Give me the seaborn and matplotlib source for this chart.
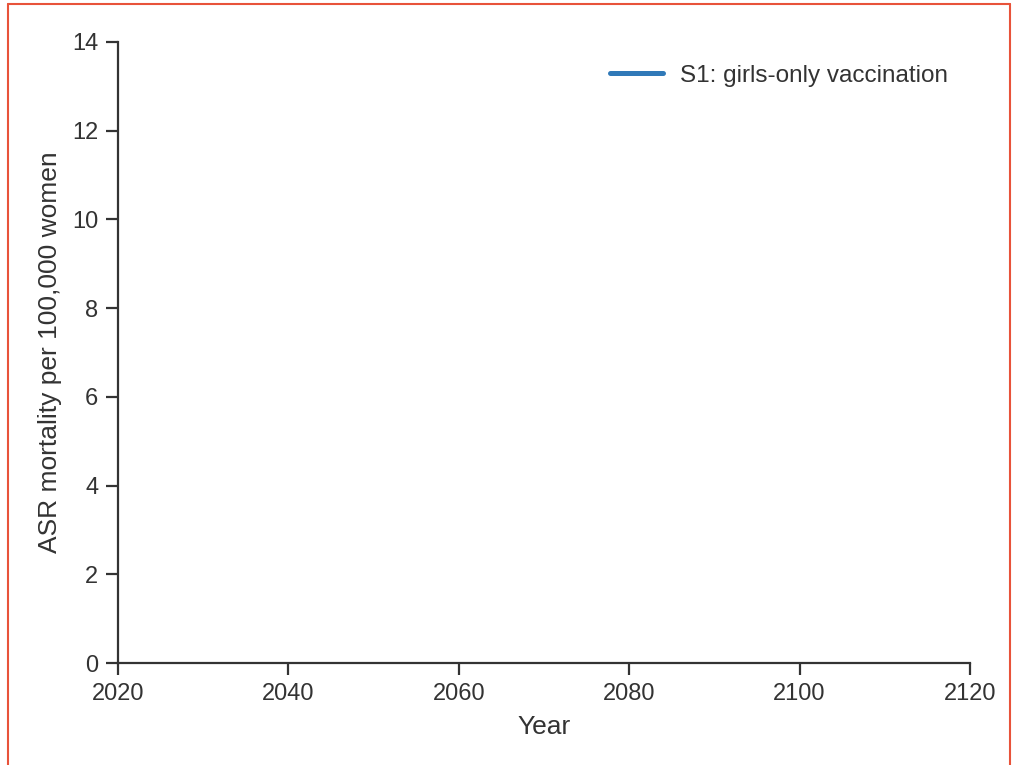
import matplotlib
matplotlib.use("Agg")
import matplotlib.pyplot as plt
import seaborn as sns
import pandas as pd
from matplotlib.lines import Line2D

# Data (the reference shows no plotted values for the series)
years = []
asr_mortality = []
series_label = "S1: girls-only vaccination"
x_ticks = [2020, 2040, 2060, 2080, 2100, 2120]
y_ticks = [0, 2, 4, 6, 8, 10, 12, 14]

sns.set_theme(style="ticks")
plt.rcParams['font.family'] = ['Arial', 'Liberation Sans', 'DejaVu Sans']

fig = plt.figure(figsize=(10.14, 7.65), dpi=100)
ax = fig.add_axes([118/1014, 1-663/765, (970-118)/1014, (663-42)/765])

df = pd.DataFrame({"Year": pd.Series(years, dtype=float),
                   "ASR": pd.Series(asr_mortality, dtype=float)})
ax.plot(df["Year"], df["ASR"], color="#3079b8", lw=3.6, label=series_label,
        solid_capstyle="round")

ax.set_xlim(x_ticks[0], x_ticks[-1])
ax.set_ylim(y_ticks[0], y_ticks[-1])
ax.set_xticks(x_ticks)
ax.set_yticks(y_ticks)
ax.tick_params(labelsize=17, colors="#333333", length=8.6, width=1.6, pad=5.5)
for s in ["left", "bottom"]:
    ax.spines[s].set_linewidth(1.6)
    ax.spines[s].set_color("#333333")
sns.despine(ax=ax)
ax.set_xlabel("Year", fontsize=19, color="#333333", labelpad=7.5)
ax.set_ylabel("ASR mortality per 100,000 women", fontsize=19, color="#333333", labelpad=7)

leg = ax.legend(loc="upper right", frameon=False, fontsize=17.5,
                handlelength=2.2, handletextpad=0.7,
                bbox_to_anchor=(1.0, 0.999))
for t in leg.get_texts():
    t.set_color("#333333")

# red screenshot border
for (x0, y0, x1, y1) in [(8/1014, 1-4/765, 1010/1014, 1-4/765),
                         (8/1014, 1-4/765, 8/1014, 0),
                         (1010/1014, 1-4/765, 1010/1014, 0)]:
    fig.add_artist(Line2D([x0, x1], [y0, y1], color="#e8533a", lw=1.5,
                          transform=fig.transFigure))

fig.savefig("out.png", dpi=100)
